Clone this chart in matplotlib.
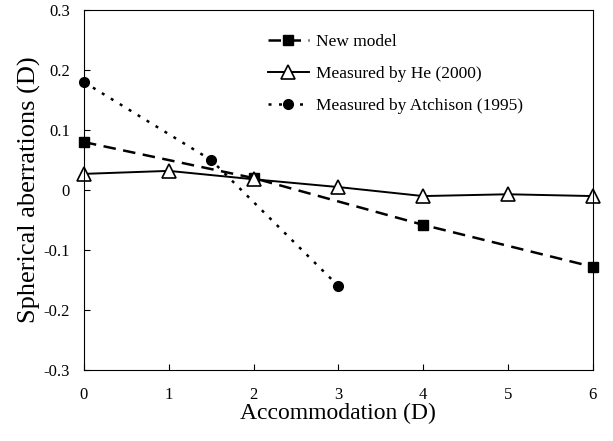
import matplotlib
matplotlib.use("Agg")
import matplotlib.pyplot as plt

plt.rcParams['font.family'] = ['Liberation Serif', 'DejaVu Serif']

x_model = [0, 2, 4, 6]
y_model = [0.08, 0.02, -0.058, -0.128]

x_he = [0, 1, 2, 3, 4, 5, 6]
y_he = [0.027, 0.032, 0.018, 0.005, -0.01, -0.007, -0.01]

x_atch = [0, 1.5, 3]
y_atch = [0.18, 0.05, -0.16]

yticks = [-0.3, -0.2, -0.1, 0, 0.1, 0.2, 0.3]
ytick_labels = ["-0.3", "-0.2", "-0.1", "0", "0.1", "0.2", "0.3"]

fig = plt.figure(figsize=(6.13, 4.41), dpi=100)
ax = fig.add_axes([0.137, 0.161, 0.83, 0.816])

ax.plot(x_model, y_model, color='black', linestyle=(0, (5, 3)), linewidth=1.8,
        marker='s', markersize=7.5, markerfacecolor='black', clip_on=False,
        label='New model')
ax.plot(x_he, y_he, color='black', linestyle='-', linewidth=1.4,
        marker='^', markersize=10, markerfacecolor='white', markeredgewidth=1.2,
        clip_on=False, label='Measured by He (2000)')
ax.plot(x_atch, y_atch, color='black', linestyle=(0, (1.2, 3)), linewidth=1.8,
        marker='o', markersize=7, markerfacecolor='black', clip_on=False,
        label='Measured by Atchison (1995)')

ax.set_xlim(0, 6)
ax.set_ylim(-0.3, 0.3)
ax.set_xticks(range(7))
ax.set_yticks(yticks)
ax.set_yticklabels(ytick_labels)
ax.tick_params(direction='in', labelsize=12, length=4, pad=10)
ax.tick_params(axis='x', pad=12)

ax.set_xlabel('Accommodation (D)', fontsize=17, labelpad=0)
ax.set_ylabel('Spherical aberrations (D)', fontsize=19, labelpad=2)

ax.legend(loc='upper left', bbox_to_anchor=(0.361, 0.934), frameon=False,
          fontsize=12.5, handlelength=2.4, handletextpad=0.4,
          labelspacing=0.9, borderaxespad=0, borderpad=0)

fig.savefig('out.png', dpi=100)
